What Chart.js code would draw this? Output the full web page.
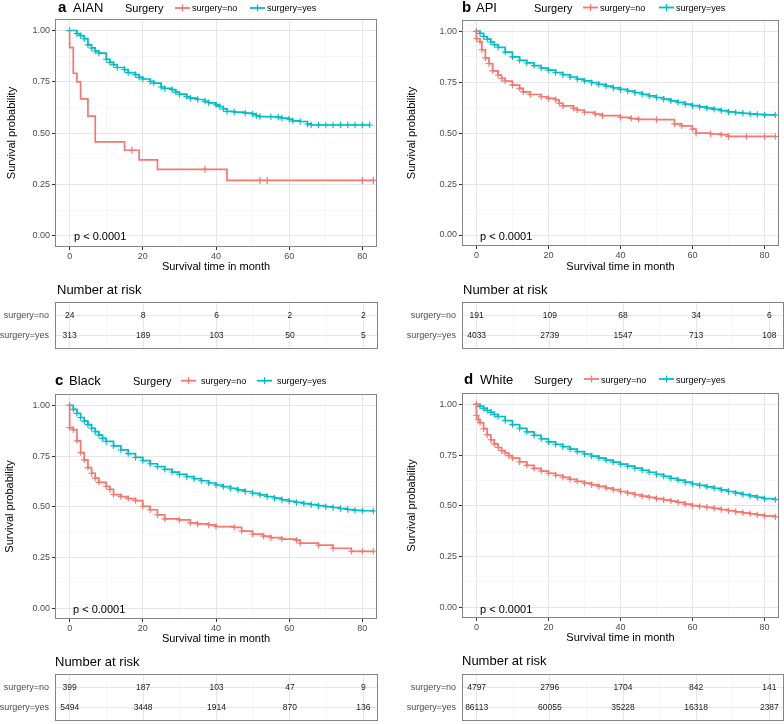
<!DOCTYPE html>
<html><head><meta charset="utf-8">
<script src="https://cdn.jsdelivr.net/npm/chart.js@4.4.1/dist/chart.umd.min.js"></script>
<style>
html,body{margin:0;padding:0;background:#fff;}
#wrap{position:relative;width:784px;height:724px;overflow:hidden;background:#fff;}
canvas{position:absolute;}
</style></head><body><div id="wrap"></div>
<script>
// ---------- shared axis / label data ----------
const xTickVals = [0, 20, 40, 60, 80];
const xMinorVals = [10, 30, 50, 70];
const yTickVals = [0, 0.25, 0.5, 0.75, 1];
const yMinorVals = [0.125, 0.375, 0.625, 0.875];
const yTickLabels = ['0.00', '0.25', '0.50', '0.75', '1.00'];
const groups = ['surgery=no', 'surgery=yes'];
const riskTimes = [0, 20, 40, 60, 80];
const pText = 'p < 0.0001';

// ---------- panel a: AIAN ----------
const aNoT = [0, 0, 1, 2, 3, 5, 7, 15, 19, 24, 43, 83];
const aNoS = [1, 0.917, 0.792, 0.75, 0.667, 0.583, 0.458, 0.417, 0.370, 0.324, 0.270, 0.270];
const aNoCensT = [17, 37, 52, 54, 80, 83];
const aNoCensS = [0.417, 0.324, 0.270, 0.270, 0.270, 0.270];
const aYesT = [0,2,3,4,5,6,7,8,10,11,12,13,15,16,18,19,20,22,23,25,26,28,29,30,32,33,35,37,38,40,41,42,43,45,48,50,51,52,55,57,58,60,61,63,65,66,68,70,72,74,76,78,80,82];
const aYesS = [1.0,0.985,0.975,0.96,0.93,0.915,0.90,0.89,0.86,0.845,0.834,0.82,0.81,0.795,0.785,0.772,0.764,0.752,0.744,0.725,0.718,0.712,0.70,0.69,0.678,0.671,0.664,0.655,0.648,0.638,0.63,0.618,0.606,0.603,0.598,0.594,0.585,0.581,0.58,0.578,0.573,0.568,0.56,0.557,0.545,0.54,0.54,0.54,0.54,0.54,0.54,0.54,0.54,0.54];
const aRiskNo = [24, 8, 6, 2, 2];
const aRiskYes = [313, 189, 103, 50, 5];

// ---------- panel b: API ----------
const bNoT = [0,0,1,1.5,2.5,3.5,4.5,6,7,8,10,12,13,15,18,20,22,23,24,27,28,30,33,35,40,43,45,50,55,57,60,61,65,68,70,75,80,83];
const bNoS = [1,0.965,0.95,0.91,0.87,0.842,0.806,0.785,0.77,0.756,0.736,0.72,0.703,0.69,0.679,0.671,0.664,0.647,0.634,0.622,0.614,0.603,0.594,0.586,0.578,0.572,0.568,0.567,0.546,0.536,0.52,0.50,0.497,0.493,0.484,0.484,0.484,0.484];
const bYesT = [0,1,2,3,4,5,6,8,10,12,14,16,18,20,22,24,26,28,30,32,34,36,38,40,42,44,46,48,50,52,54,56,58,60,62,64,66,68,70,72,74,76,78,80,83];
const bYesS = [1,0.99,0.975,0.962,0.948,0.935,0.922,0.898,0.875,0.858,0.845,0.832,0.82,0.81,0.798,0.787,0.776,0.766,0.757,0.748,0.74,0.731,0.723,0.715,0.707,0.699,0.691,0.683,0.675,0.667,0.659,0.651,0.643,0.635,0.629,0.623,0.617,0.611,0.605,0.601,0.598,0.595,0.592,0.59,0.59];
const bRiskNo = [191, 109, 68, 34, 6];
const bRiskYes = [4033, 2739, 1547, 713, 108];

// ---------- panel c: Black ----------
const cNoT = [0,0,1,2,3,4,5,6,7,8,10,11,12,14,16,18,20,22,24,26,30,33,35,38,40,45,47,50,53,55,58,62,63,68,72,77,80,83];
const cNoS = [1,0.89,0.88,0.825,0.767,0.731,0.693,0.665,0.641,0.62,0.60,0.585,0.56,0.55,0.54,0.53,0.502,0.485,0.46,0.44,0.435,0.42,0.415,0.41,0.402,0.398,0.38,0.365,0.355,0.347,0.34,0.335,0.32,0.31,0.295,0.28,0.28,0.28];
const cYesT = [0,1,2,3,4,5,6,7,8,9,10,12,14,16,18,20,22,24,26,28,30,32,34,36,38,40,42,44,46,48,50,52,54,56,58,60,62,64,66,68,70,72,74,76,78,80,83];
const cYesS = [1,0.98,0.96,0.94,0.922,0.905,0.887,0.87,0.853,0.837,0.822,0.8,0.78,0.762,0.743,0.727,0.712,0.698,0.684,0.671,0.659,0.648,0.638,0.628,0.617,0.607,0.599,0.591,0.583,0.575,0.566,0.558,0.55,0.542,0.534,0.527,0.521,0.515,0.51,0.505,0.5,0.496,0.491,0.486,0.482,0.48,0.479];
const cRiskNo = [399, 187, 103, 47, 9];
const cRiskYes = [5494, 3448, 1914, 870, 136];

// ---------- panel d: White ----------
const dNoT = [0,0,0.5,1,2,3,4,5,6,7,8,9,10,12,14,16,18,20,22,24,26,28,30,32,34,36,38,40,42,44,46,48,50,52,54,56,58,60,62,64,66,68,70,72,74,76,78,80,83];
const dNoS = [1,0.945,0.925,0.91,0.88,0.85,0.825,0.805,0.787,0.772,0.76,0.747,0.735,0.716,0.699,0.684,0.671,0.66,0.65,0.64,0.63,0.62,0.611,0.603,0.595,0.587,0.579,0.57,0.562,0.554,0.547,0.541,0.535,0.529,0.523,0.516,0.508,0.5,0.496,0.492,0.487,0.481,0.475,0.47,0.465,0.46,0.455,0.45,0.445];
const dYesT = [0,1,2,3,4,5,6,8,10,12,14,16,18,20,22,24,26,28,30,32,34,36,38,40,42,44,46,48,50,52,54,56,58,60,62,64,66,68,70,72,74,76,78,80,83];
const dYesS = [1,0.99,0.98,0.97,0.96,0.95,0.94,0.92,0.9,0.882,0.864,0.847,0.83,0.815,0.803,0.791,0.779,0.767,0.755,0.745,0.735,0.725,0.715,0.705,0.695,0.685,0.675,0.665,0.655,0.645,0.635,0.626,0.616,0.607,0.6,0.593,0.586,0.578,0.57,0.562,0.555,0.548,0.541,0.535,0.53];
const dRiskNo = [4797, 2796, 1704, 842, 141];
const dRiskYes = [86113, 60055, 35228, 16318, 2387];

// ---------- styling ----------
const FONT = "'Liberation Sans', Arial, Helvetica, sans-serif";
const RED = '#F8766D', TEAL = '#00BFC4';
const GRID_MAJ = '#E6E6E6', GRID_MIN = '#F3F3F3';
const AXIS_TXT = '#4D4D4D';

const deco = {
  id: 'deco',
  afterDraw(chart, args, o) {
    const ctx = chart.ctx;
    ctx.save();
    if (o.frame) {
      const a = chart.chartArea;
      ctx.strokeStyle = '#858585';
      ctx.lineWidth = 1;
      ctx.strokeRect(Math.round(a.left) + 0.5, Math.round(a.top) + 0.5,
        Math.round(a.right - a.left) - 1, Math.round(a.bottom - a.top) - 1);
    }
    (o.keys || []).forEach(k => {
      const x1 = k.x1 - o.ox, x2 = k.x2 - o.ox, y = k.y - o.oy;
      ctx.strokeStyle = k.color; ctx.lineWidth = 1.8;
      ctx.beginPath(); ctx.moveTo(x1, y); ctx.lineTo(x2, y); ctx.stroke();
      const xm = (x1 + x2) / 2;
      ctx.lineWidth = 1.2;
      ctx.beginPath(); ctx.moveTo(xm, y - 3.5); ctx.lineTo(xm, y + 3.5); ctx.stroke();
    });
    (o.texts || []).forEach(t => {
      ctx.font = (t.bold ? 'bold ' : '') + t.size + 'px ' + FONT;
      ctx.fillStyle = t.color || '#000';
      ctx.textAlign = t.align || 'left';
      ctx.textBaseline = 'alphabetic';
      ctx.fillText(t.t, t.x - o.ox, t.y - o.oy);
    });
    if (o.risk) {
      ctx.font = '8.5px ' + FONT;
      ctx.fillStyle = '#1a1a1a';
      ctx.textAlign = 'center';
      ctx.textBaseline = 'middle';
      chart.data.datasets.forEach((ds, di) => {
        const meta = chart.getDatasetMeta(di);
        meta.data.forEach((pt, i) => ctx.fillText(String(ds.data[i].n), pt.x, pt.y));
      });
    }
    ctx.restore();
  }
};

const wrap = document.getElementById('wrap');
function makeCanvas(x0, y0, w, h) {
  const c = document.createElement('canvas');
  c.width = w; c.height = h;
  c.style.left = x0 + 'px'; c.style.top = y0 + 'px';
  c.style.width = w + 'px'; c.style.height = h + 'px';
  wrap.appendChild(c);
  return c;
}
const pts = (T, S) => T.map((t, i) => ({ x: t, y: S[i] }));
const isIn = (arr, v) => arr.some(a => Math.abs(a - v) < 1e-9);

function survChart(p) {
  const c = makeCanvas(p.x0, p.y0, p.w, p.h);
  const ds = [
    { data: pts(p.noT, p.noS), stepped: true, borderColor: RED, borderWidth: 1.7, fill: false,
      pointRadius: p.noMarks ? 3.2 : 0, pointStyle: 'cross', pointBorderColor: RED, pointBorderWidth: 1.1 },
    { data: pts(p.yesT, p.yesS), stepped: true, borderColor: TEAL, borderWidth: 1.7, fill: false,
      pointRadius: 3.2, pointStyle: 'cross', pointBorderColor: TEAL, pointBorderWidth: 1.1 }
  ];
  if (p.censT) {
    ds.push({ data: pts(p.censT, p.censS), showLine: false, pointRadius: 3.5, pointStyle: 'cross',
      pointBorderColor: RED, pointBorderWidth: 1.2, borderColor: RED });
  }
  return new Chart(c, {
    type: 'line',
    data: { datasets: ds },
    plugins: [deco],
    options: {
      responsive: false, animation: false, devicePixelRatio: 1, events: [],
      layout: { padding: { left: 0, right: p.x0 + p.w - p.R, top: p.T - p.y0, bottom: 0 } },
      plugins: {
        legend: { display: false }, tooltip: { enabled: false },
        deco: { ox: p.x0, oy: p.y0, frame: true, texts: p.texts, keys: p.keys }
      },
      scales: {
        x: {
          type: 'linear', min: -4, max: 84,
          afterBuildTicks: s => { s.ticks = xTickVals.concat(xMinorVals).sort((a, b) => a - b).map(v => ({ value: v })); },
          afterFit: s => { s.height = p.y0 + p.h - p.B; },
          border: { display: false },
          grid: {
            color: c2 => isIn(xTickVals, c2.tick.value) ? GRID_MAJ : GRID_MIN,
            lineWidth: c2 => isIn(xTickVals, c2.tick.value) ? 1 : 0.7,
            tickColor: c2 => isIn(xTickVals, c2.tick.value) ? '#333333' : 'rgba(0,0,0,0)',
            tickLength: 3, drawTicks: true
          },
          ticks: { autoSkip: false, maxRotation: 0, padding: 1, color: AXIS_TXT,
            font: { family: FONT, size: 9 },
            callback: v => isIn(xTickVals, v) ? String(v) : '' },
          title: { display: true, text: 'Survival time in month', color: '#000',
            font: { family: FONT, size: 11 }, padding: { top: 0, bottom: 0 } }
        },
        y: {
          type: 'linear', min: -0.054, max: 1.056,
          afterBuildTicks: s => { s.ticks = yTickVals.concat(yMinorVals).sort((a, b) => a - b).map(v => ({ value: v })); },
          afterFit: s => { s.width = p.L - p.x0; },
          border: { display: false },
          grid: {
            color: c2 => isIn(yTickVals, c2.tick.value) ? GRID_MAJ : GRID_MIN,
            lineWidth: c2 => isIn(yTickVals, c2.tick.value) ? 1 : 0.7,
            tickColor: c2 => isIn(yTickVals, c2.tick.value) ? '#333333' : 'rgba(0,0,0,0)',
            tickLength: 3, drawTicks: true
          },
          ticks: { autoSkip: false, padding: 2, color: AXIS_TXT,
            font: { family: FONT, size: 9 },
            callback: v => { const i = yTickVals.findIndex(t => Math.abs(t - v) < 1e-9); return i >= 0 ? yTickLabels[i] : ''; } },
          title: { display: true, text: 'Survival probability', color: '#000',
            font: { family: FONT, size: 11 }, padding: { top: p.ytPad, bottom: 0 } }
        }
      }
    }
  });
}

function riskChart(p) {
  const c = makeCanvas(p.x0, p.y0, p.w, p.h);
  return new Chart(c, {
    type: 'scatter',
    data: { datasets: [
      { data: riskTimes.map((t, i) => ({ x: t, y: 2, n: p.no[i] })), pointRadius: 0 },
      { data: riskTimes.map((t, i) => ({ x: t, y: 1, n: p.yes[i] })), pointRadius: 0 }
    ] },
    plugins: [deco],
    options: {
      responsive: false, animation: false, devicePixelRatio: 1, events: [],
      layout: { padding: { left: 0, right: p.x0 + p.w - p.R, top: p.T - p.y0, bottom: 0 } },
      plugins: {
        legend: { display: false }, tooltip: { enabled: false },
        deco: { ox: p.x0, oy: p.y0, frame: true, risk: true,
          texts: [{ t: 'Number at risk', x: p.titleX, y: p.titleY, size: 13 }] }
      },
      scales: {
        x: {
          type: 'linear', min: -4, max: 84,
          afterBuildTicks: s => { s.ticks = xTickVals.concat(xMinorVals).sort((a, b) => a - b).map(v => ({ value: v })); },
          afterFit: s => { s.height = p.y0 + p.h - p.B; },
          border: { display: false },
          grid: {
            color: c2 => isIn(xTickVals, c2.tick.value) ? GRID_MAJ : GRID_MIN,
            lineWidth: c2 => isIn(xTickVals, c2.tick.value) ? 1 : 0.7,
            drawTicks: false
          },
          ticks: { display: false }
        },
        y: {
          type: 'linear', min: 0.3, max: 2.7,
          afterBuildTicks: s => { s.ticks = [{ value: 1 }, { value: 2 }]; },
          afterFit: s => { s.width = p.L - p.x0; },
          border: { display: false },
          grid: { color: GRID_MAJ, lineWidth: 1, drawTicks: false },
          ticks: { autoSkip: false, padding: 6, color: AXIS_TXT, font: { family: FONT, size: 9 },
            callback: v => v === 2 ? groups[0] : (v === 1 ? groups[1] : '') }
        }
      }
    }
  });
}

function header(tag, name, xs, base, keyY) {
  return {
    texts: [
      { t: tag, x: xs[0], y: base, size: 15, bold: true },
      { t: name, x: xs[1], y: base, size: 13 },
      { t: 'Surgery', x: xs[2], y: base, size: 11 },
      { t: groups[0], x: xs[4], y: base - 0.5, size: 9 },
      { t: groups[1], x: xs[6], y: base - 0.5, size: 9 }
    ],
    keys: [
      { x1: xs[3], x2: xs[3] + 15, y: keyY, color: RED },
      { x1: xs[5], x2: xs[5] + 15, y: keyY, color: TEAL }
    ]
  };
}

// ---------- build panels ----------
const hA = header('a', 'AIAN', [58, 73, 125, 175, 192, 250, 267], 11.7, 8);
survChart({ x0: 0, y0: 0, w: 392, h: 274, L: 55, R: 377, T: 19, B: 247, ytPad: 5,
  noT: aNoT, noS: aNoS, noMarks: false, censT: aNoCensT, censS: aNoCensS, yesT: aYesT, yesS: aYesS,
  texts: hA.texts.concat([{ t: pText, x: 74, y: 240, size: 11 }]), keys: hA.keys });
riskChart({ x0: 0, y0: 276, w: 392, h: 88, L: 55, R: 378, T: 302, B: 349, no: aRiskNo, yes: aRiskYes,
  titleX: 57, titleY: 294 });

const hB = header('b', 'API', [462, 476, 534, 583, 600, 659, 676], 11.7, 7.5);
survChart({ x0: 392, y0: 0, w: 392, h: 274, L: 462, R: 784, T: 20, B: 246, ytPad: 13,
  noT: bNoT, noS: bNoS, noMarks: true, yesT: bYesT, yesS: bYesS,
  texts: hB.texts.concat([{ t: pText, x: 480, y: 240, size: 11 }]), keys: hB.keys });
riskChart({ x0: 392, y0: 276, w: 392, h: 88, L: 462, R: 784, T: 302, B: 349, no: bRiskNo, yes: bRiskYes,
  titleX: 463, titleY: 294 });

const hC = header('c', 'Black', [55, 69, 133, 181, 201, 257, 277], 384.5, 380.7);
survChart({ x0: 0, y0: 370, w: 392, h: 276, L: 55, R: 377, T: 394, B: 619, ytPad: 3,
  noT: cNoT, noS: cNoS, noMarks: true, yesT: cYesT, yesS: cYesS,
  texts: hC.texts.concat([{ t: pText, x: 73, y: 612.5, size: 11 }]), keys: hC.keys });
riskChart({ x0: 0, y0: 648, w: 392, h: 88, L: 55, R: 378, T: 674, B: 721, no: cRiskNo, yes: cRiskYes,
  titleX: 55, titleY: 665.5 });

const hD = header('d', 'White', [464, 480, 534, 584, 601, 659, 676], 383.5, 379);
survChart({ x0: 392, y0: 370, w: 392, h: 275, L: 462, R: 784, T: 393, B: 618, ytPad: 13,
  noT: dNoT, noS: dNoS, noMarks: true, yesT: dYesT, yesS: dYesS,
  texts: hD.texts.concat([{ t: pText, x: 480, y: 612.5, size: 11 }]), keys: hD.keys });
riskChart({ x0: 392, y0: 648, w: 392, h: 88, L: 462, R: 784, T: 674, B: 721, no: dRiskNo, yes: dRiskYes,
  titleX: 462, titleY: 665 });
</script>
</body></html>
